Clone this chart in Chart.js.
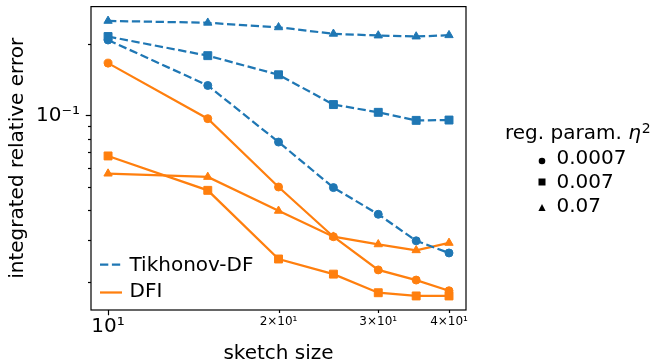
<!DOCTYPE html>
<html>
<head>
<meta charset="utf-8">
<script src="https://cdn.jsdelivr.net/npm/chart.js@4.4.0/dist/chart.umd.min.js"></script>
<style>
  html, body { margin: 0; padding: 0; background: #fff; }
  #wrap { width: 659px; height: 363px; }
</style>
</head>
<body>
<div id="wrap"><canvas id="errChart" width="659" height="363"></canvas></div>
<script>
// sketch sizes on the x axis
const sketchSizes = [10, 15, 20, 25, 30, 35, 40];

// Tikhonov-DF, one series per reg. param.
const tikhonov0007 = [0.207, 0.1335, 0.0773, 0.0498, 0.0385, 0.0298, 0.0265];
const tikhonov007 = [0.2141, 0.178, 0.148, 0.111, 0.103, 0.0953, 0.0956];
const tikhonov07 = [0.249, 0.2445, 0.234, 0.2198, 0.2162, 0.2141, 0.2168];

// DFI
const dfi0007 = [0.1656, 0.0969, 0.0501, 0.031, 0.0225, 0.0204, 0.0184];
const dfi007 = [0.0676, 0.0485, 0.025, 0.0216, 0.01805, 0.0175, 0.0175];
const dfi07 = [0.057, 0.0552, 0.0398, 0.031, 0.0288, 0.0272, 0.0292];

const etaLabels = ['0.0007', '0.007', '0.07'];
const etaMarkers = ['circle', 'rect', 'triangle'];

// tick values / labels
const xTickValues = [10, 20, 30, 40];
const xTickLabels = ['10\u00B9', '2\u00D710\u00B9', '3\u00D710\u00B9', '4\u00D710\u00B9'];
const xMajorTicks = [10];
const yTickValues = [0.02, 0.03, 0.04, 0.05, 0.06, 0.07, 0.08, 0.09, 0.1, 0.2];
const yMajorTicks = [0.1];
const yMajorLabels = ['10\u207B\u00B9'];

const BLUE = '#1f77b4';
const ORANGE = '#ff7f0e';
const FONT = 'DejaVu Sans';

const markerRadius = { circle: 4, rect: 5.6, triangle: 4.8 };

function makeSet(label, data, color, marker, dashed) {
    return {
        label: label,
        data: data,
        borderColor: color,
        backgroundColor: color,
        borderWidth: 2.25,
        borderDash: dashed ? [8.3, 3.6] : [],
        pointStyle: marker,
        pointRadius: markerRadius[marker],
        pointBorderWidth: 1,
        pointBackgroundColor: color,
        pointBorderColor: color,
        tension: 0,
        fill: false
    };
}

const tikSets = [tikhonov0007, tikhonov007, tikhonov07];
const dfiSets = [dfi0007, dfi007, dfi07];
const datasets = [];
etaLabels.forEach((eta, i) => {
    datasets.push(makeSet('Tikhonov-DF ' + eta, tikSets[i], BLUE, etaMarkers[i], true));
    datasets.push(makeSet('DFI ' + eta, dfiSets[i], ORANGE, etaMarkers[i], false));
});

// frame, tick marks and the two legends
const decorPlugin = {
    id: 'decor',
    afterDraw: (chart) => {
        const { ctx, chartArea: a } = chart;
        const xs = chart.scales.x, ys = chart.scales.y;
        ctx.save();
        ctx.strokeStyle = '#000';
        ctx.lineWidth = 1.2;
        ctx.setLineDash([]);
        ctx.strokeRect(a.left, a.top, a.right - a.left, a.bottom - a.top);

        xTickValues.forEach(v => {
            const px = Math.round(xs.getPixelForValue(v)) + 0.5;
            const len = xMajorTicks.includes(v) ? 5.25 : 3;
            ctx.beginPath();
            ctx.moveTo(px, a.bottom);
            ctx.lineTo(px, a.bottom + len);
            ctx.stroke();
        });
        yTickValues.forEach(v => {
            const py = Math.round(ys.getPixelForValue(v)) + 0.5;
            const len = yMajorTicks.includes(v) ? 5.25 : 3;
            ctx.beginPath();
            ctx.moveTo(a.left, py);
            ctx.lineTo(a.left - len, py);
            ctx.stroke();
        });

        // method legend (inside plot)
        ctx.font = '20px "' + FONT + '"';
        ctx.fillStyle = '#000';
        ctx.textBaseline = 'alphabetic';
        ctx.textAlign = 'left';
        ctx.lineWidth = 2.25;
        ctx.strokeStyle = BLUE;
        ctx.setLineDash([8.3, 3.6]);
        ctx.beginPath();
        ctx.moveTo(100, 264.5);
        ctx.lineTo(122, 264.5);
        ctx.stroke();
        ctx.strokeStyle = ORANGE;
        ctx.setLineDash([]);
        ctx.beginPath();
        ctx.moveTo(100, 292.5);
        ctx.lineTo(122, 292.5);
        ctx.stroke();
        ctx.fillText('Tikhonov-DF', 129.5, 271);
        ctx.fillText('DFI', 129.5, 297);

        // reg. param. legend (right)
        const t1 = 'reg. param. ';
        ctx.fillText(t1, 505, 139);
        const w1 = ctx.measureText(t1).width;
        ctx.font = 'oblique 20px "' + FONT + '"';
        ctx.fillText('\u03B7', 505 + w1, 139);
        const w2 = ctx.measureText('\u03B7').width;
        ctx.font = '14px "' + FONT + '"';
        ctx.fillText('2', 505 + w1 + w2 + 1, 133);

        ctx.font = '20px "' + FONT + '"';
        const rowBase = [164.3, 187.7, 211.5];
        const rowMark = [161, 182, 207.5];
        etaLabels.forEach((eta, i) => {
            const mx = 542, my = rowMark[i];
            ctx.beginPath();
            if (etaMarkers[i] === 'circle') {
                ctx.arc(mx, my, 3.3, 0, Math.PI * 2);
            } else if (etaMarkers[i] === 'rect') {
                ctx.rect(mx - 3.5, my - 3.5, 7, 7);
            } else {
                ctx.moveTo(mx, my - 3.6);
                ctx.lineTo(mx + 3.6, my + 3.4);
                ctx.lineTo(mx - 3.6, my + 3.4);
                ctx.closePath();
            }
            ctx.fill();
            ctx.fillText(eta, 556.5, rowBase[i]);
        });
        ctx.restore();
    }
};

const ctx = document.getElementById('errChart').getContext('2d');

const chart = new Chart(ctx, {
    type: 'line',
    data: { datasets: datasets.map(d => ({ ...d, data: d.data.map((y, i) => ({ x: sketchSizes[i], y: y })) })) },
    options: {
        responsive: false,
        devicePixelRatio: 1,
        animation: false,
        layout: { padding: { left: 0, top: 6, right: 193, bottom: 0 } },
        scales: {
            x: {
                type: 'logarithmic',
                position: 'bottom',
                min: 9.33,
                max: 42.86,
                bounds: 'data',
                afterBuildTicks: (s) => { s.ticks = xTickValues.map(v => ({ value: v })); },
                afterFit: (s) => { s.height = 53; s.paddingLeft = 0; s.paddingRight = 0; },
                grid: { display: false, drawTicks: false },
                border: { display: false },
                ticks: {
                    autoSkip: false,
                    maxRotation: 0,
                    padding: 5,
                    color: '#000',
                    font: (c) => ({ family: FONT, size: (c.tick && xMajorTicks.includes(c.tick.value)) ? 20 : 12 }),
                    callback: (value) => {
                        const i = xTickValues.indexOf(value);
                        return i >= 0 ? xTickLabels[i] : '';
                    }
                },
                title: {
                    display: true,
                    text: 'sketch size',
                    color: '#000',
                    font: { family: FONT, size: 20 },
                    padding: { top: 0, bottom: -3 }
                }
            },
            y: {
                type: 'logarithmic',
                min: 0.01528,
                max: 0.2858,
                bounds: 'data',
                afterBuildTicks: (s) => { s.ticks = yTickValues.map(v => ({ value: v })); },
                afterFit: (s) => { s.width = 91; s.paddingTop = 0; s.paddingBottom = 0; },
                grid: { display: false, drawTicks: false },
                border: { display: false },
                ticks: {
                    autoSkip: false,
                    padding: 11,
                    color: '#000',
                    font: { family: FONT, size: 20 },
                    callback: (value) => {
                        const i = yMajorTicks.indexOf(value);
                        return i >= 0 ? yMajorLabels[i] : '';
                    }
                },
                title: {
                    display: true,
                    text: 'integrated relative error',
                    color: '#000',
                    font: { family: FONT, size: 20 },
                    padding: { top: 6, bottom: 0 }
                }
            }
        },
        plugins: {
            legend: { display: false },
            tooltip: { enabled: false }
        }
    },
    plugins: [decorPlugin]
});
</script>
</body>
</html>
